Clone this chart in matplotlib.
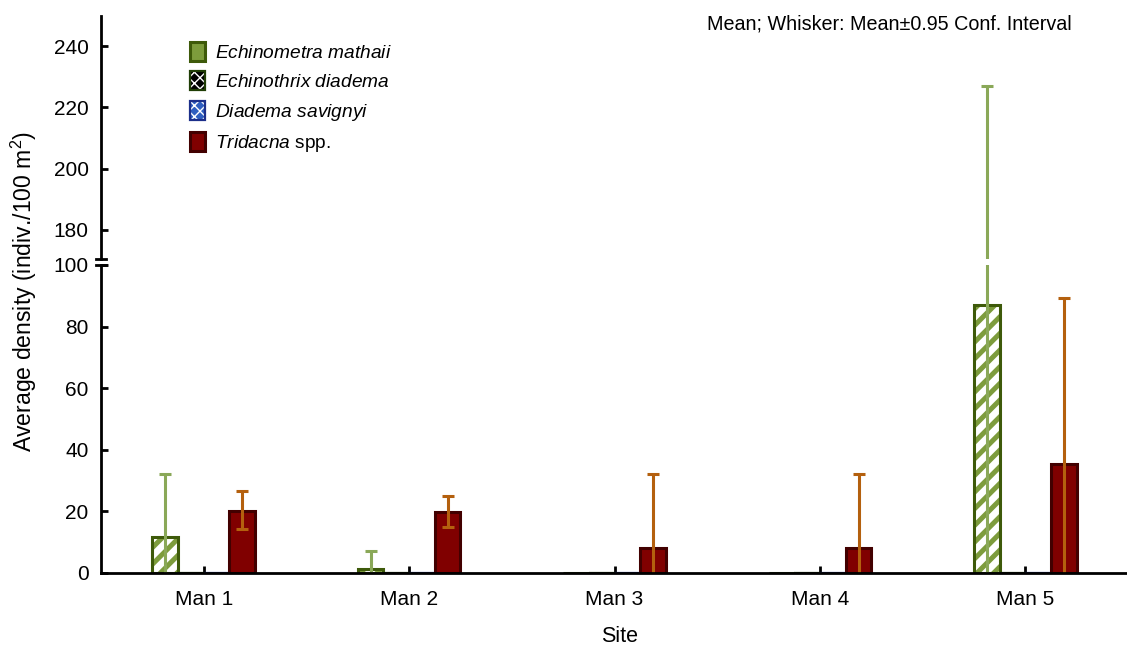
import matplotlib
matplotlib.use("Agg")
import matplotlib.pyplot as plt
import matplotlib.patches as mpatches
from matplotlib.legend_handler import HandlerTuple
import numpy as np

FONT = "Liberation Sans"
plt.rcParams['font.family'] = [FONT, 'DejaVu Sans']
plt.rcParams['mathtext.fontset'] = 'custom'
plt.rcParams['mathtext.rm'] = FONT
plt.rcParams['mathtext.it'] = FONT + ':italic'

# ---- data ----
sites = ["Man 1", "Man 2", "Man 3", "Man 4", "Man 5"]
species = ["Echinometra mathaii", "Echinothrix diadema", "Diadema savignyi", "Tridacna spp."]
echinometra_mean = [11.6, 1.2, 0.0, 0.0, 87.0]
echinometra_lo = [0.0, 0.0, 0.0, 0.0, 0.0]
echinometra_hi = [32.0, 7.0, 0.0, 0.0, 227.0]
echinothrix_mean = [0.0, 0.0, 0.0, 0.0, 0.0]
diadema_mean = [0.0, 0.0, 0.0, 0.0, 0.0]
tridacna_mean = [20.2, 19.8, 8.1, 8.1, 35.4]
tridacna_lo = [14.2, 15.0, 0.0, 0.0, 0.0]
tridacna_hi = [26.6, 25.0, 32.1, 32.1, 89.2]

W, H = 1127, 649
fig = plt.figure(figsize=(W / 100, H / 100), dpi=100)
left = 101 / W
right = 1.001
ax_lo = fig.add_axes([left, (H - 573) / H, right - left, (573 - 265) / H])
ax_hi = fig.add_axes([left, (H - 259) / H, right - left, (259 - 15.5) / H])

x = np.arange(len(sites))
bw = 0.125
offs = [-1.5 * bw, -0.5 * bw, 0.5 * bw, 1.5 * bw]

GREEN_H = '#7d9c3c'
GREEN_E = '#3e5a0a'
FS_TICK = 15
handles = {}
for ax in (ax_lo, ax_hi):
    # Echinometra: hatched fill + dark outline
    with plt.rc_context({'hatch.linewidth': 3.6}):
        h1 = ax.bar(x + offs[0], echinometra_mean, bw, facecolor='white', edgecolor=GREEN_H,
                    hatch='//', linewidth=0, zorder=2)
    h1b = ax.bar(x + offs[0], echinometra_mean, bw, facecolor='none', edgecolor=GREEN_E,
                 linewidth=2.2, zorder=2.1)
    with plt.rc_context({'hatch.linewidth': 1.0}):
        h2 = ax.bar(x + offs[1], echinothrix_mean, bw, facecolor='black', edgecolor='white',
                    hatch='xxx', linewidth=0, zorder=2)
        h3 = ax.bar(x + offs[2], diadema_mean, bw, facecolor='#2f5fc0', edgecolor='white',
                    hatch='xxx', linewidth=0, zorder=2)
    h2b = ax.bar(x + offs[1], echinothrix_mean, bw, facecolor='none', edgecolor='#1f3d05',
                 linewidth=1.6, zorder=2.1)
    h3b = ax.bar(x + offs[2], diadema_mean, bw, facecolor='none', edgecolor='#1c2f8a',
                 linewidth=1.6, zorder=2.1)
    h4 = ax.bar(x + offs[3], tridacna_mean, bw, facecolor='#800000', edgecolor='#420000',
                linewidth=2.2, zorder=2.1)
    handles[ax] = [(h2, h2b), (h3, h3b), h4]

    em = np.array(echinometra_mean)
    e1 = ax.errorbar(x + offs[0], em, yerr=[em - np.array(echinometra_lo), np.array(echinometra_hi) - em],
                     fmt='none', ecolor='#8aa858', elinewidth=2.2, capsize=4.5, capthick=2.2, zorder=2.3)
    tm = np.array(tridacna_mean)
    e4 = ax.errorbar(x + offs[3], tm, yerr=[tm - np.array(tridacna_lo), np.array(tridacna_hi) - tm],
                     fmt='none', ecolor='#b4600e', elinewidth=2.2, capsize=4.5, capthick=2.2, zorder=2.3)
    # hide lower caps where the interval is cut at zero, and caps of zero-length intervals
    e1[1][0].set_markevery([i for i, v in enumerate(echinometra_lo) if v > 0])
    e1[1][1].set_markevery([i for i, v in enumerate(echinometra_hi) if v > 0])
    e4[1][0].set_markevery([i for i, v in enumerate(tridacna_lo) if v > 0])

    ax.set_xlim(-0.5, 4.5)
    for s in ('top', 'right'):
        ax.spines[s].set_visible(False)
    ax.spines['left'].set_linewidth(2)
    ax.spines['bottom'].set_linewidth(2)
    ax.tick_params(axis='y', direction='in', length=5, width=2, pad=9, labelsize=FS_TICK)

ax_lo.set_ylim(0, 100)
ax_lo.set_yticks([0, 20, 40, 60, 80, 100])
ax_lo.set_xticks(x)
ax_lo.set_xticklabels(sites)
ax_lo.tick_params(axis='x', direction='in', length=5, width=2, pad=12, labelsize=FS_TICK)

ax_hi.set_ylim(170.5, 250)
ax_hi.set_yticks([180, 200, 220, 240])
ax_hi.spines['bottom'].set_visible(False)
ax_hi.set_xticks([])

# break marks on the y axis
for yy in (259.3, 265.2):
    fig.add_artist(plt.Line2D([96 / W, 106 / W], [(H - yy) / H] * 2, color='black', lw=2))

fig.text(620 / W, (H - 636) / H, "Site", ha='center', va='center', fontsize=15.5)
fig.text(24 / W, (H - 291) / H, "Average density (indiv./100 m$^2$)", rotation=90,
         ha='center', va='center', fontsize=16.6)
fig.text(707 / W, (H - 24) / H, "Mean; Whisker: Mean\u00b10.95 Conf. Interval",
         ha='left', va='center', fontsize=14.2)

# legend key for the hatched series: mostly green with white pattern
with plt.rc_context({'hatch.linewidth': 2.5}):
    leg_echino = mpatches.Patch(facecolor=GREEN_H, edgecolor='white', hatch='/', linewidth=0)
leg_echino_b = mpatches.Patch(facecolor='none', edgecolor=GREEN_E, linewidth=2.2)

labels = [r"$\it{Echinometra\ mathaii}$", r"$\it{Echinothrix\ diadema}$",
          r"$\it{Diadema\ savignyi}$", r"$\it{Tridacna}$ spp."]
ax_hi.legend([(leg_echino, leg_echino_b)] + handles[ax_hi], labels, loc='upper left',
             bbox_to_anchor=((182 - 101) / (W - 101), 1.0 - (34 - 15.5) / (259 - 15.5)),
             frameon=False, fontsize=13.8, handlelength=0.8, handleheight=1.15, handletextpad=0.5,
             labelspacing=0.5, borderaxespad=0,
             handler_map={tuple: HandlerTuple(ndivide=1)})

fig.savefig("out.png", dpi=100)
